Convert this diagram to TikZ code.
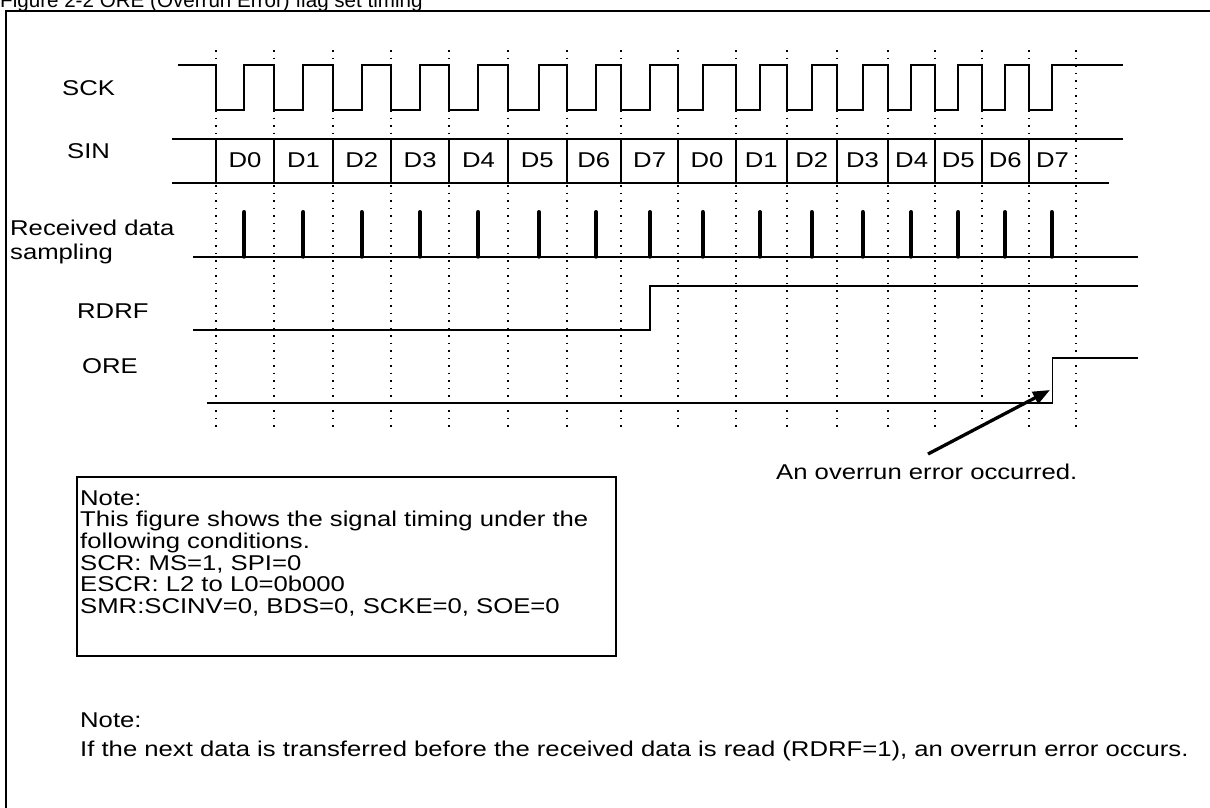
\documentclass[tikz,border=0pt]{standalone}
\usepackage{fontspec}
\setmainfont[FakeStretch=1.2]{Liberation Sans}
\newfontfamily\titlefam{Liberation Sans}
\usetikzlibrary{arrows.meta}
\begin{document}
\begin{tikzpicture}[x=1pt,y=-1pt,
  lbl/.style={anchor=base west,inner sep=0,font=\fontsize{21.4pt}{21.7pt}\selectfont},
  titlefont/.style={anchor=base west,inner sep=0,font=\titlefam\fontsize{20.6pt}{21pt}\selectfont},
  dlbl/.style={anchor=base,inner sep=0,font=\fontsize{21.4pt}{21.7pt}\selectfont},
  sig/.style={line width=1.9pt},
  grid/.style={line width=1.7pt,dash pattern=on 1.7pt off 5.8pt},
  spike/.style={line width=4pt,line cap=round},
  frame/.style={line width=2pt},
  boxline/.style={line width=1.5pt}]
\useasboundingbox (0,0) rectangle (1210,807);
% title and frame
\node[titlefont] (title) at (0,7.5) {Figure 2-2 ORE (Overrun Error) flag set timing};
\draw[frame] (6,812) -- (6,11) -- (1215,11);
% dotted grid
\foreach \x in {215.7,274.3,332.7,391,449.3,507.7,566.7,621,678.3,735.7,786.7,836.7,888.3,935,981.7,1029,1076}
  \draw[grid] (\x,50) -- (\x,429);
% labels
\node[lbl] (lsck) at (62,95) {SCK};
\node[lbl] (lsin) at (67,158) {SIN};
\node[lbl] (lrec) at (10,235) {Received data};
\node[lbl] (lsam) at (10,259) {sampling};
\node[lbl] (lrdrf) at (77,318) {RDRF};
\node[lbl] (lore) at (82,373) {ORE};
% SCK
\draw[sig] (178,65)
  \foreach \f/\r in {215.7/244.3,274.3/303.3,332.7/361.7,391/420,449.3/478.3,507.7/539,566.7/596,621/650,678.3/702.7,735.7/760,786.7/811.7,836.7/862.7,888.3/911,935/958.3,981.7/1005,1029/1051.7}
  { -- (\f,65) -- (\f,110) -- (\r,110) -- (\r,65) } -- (1123,65);
% SIN
\draw[sig] (172,139) -- (1123,139);
\draw[sig] (172,183) -- (1109,183);
\foreach \x in {215.7,274.3,332.7,391,449.3,507.7,566.7,621,678.3,735.7,786.7,836.7,888.3,935,981.7,1029}
  \draw[sig] (\x,139) -- (\x,183);
\foreach \a/\b/\t in {215.7/274.3/D0,274.3/332.7/D1,332.7/391/D2,391/449.3/D3,449.3/507.7/D4,507.7/566.7/D5,566.7/621/D6,621/678.3/D7,678.3/735.7/D0,735.7/786.7/D1,786.7/836.7/D2,836.7/888.3/D3,888.3/935/D4,935/981.7/D5,981.7/1029/D6,1029/1076/D7}
  \node[dlbl] at ({(\a+\b)/2},167) {\t};
% sampling
\draw[sig] (193,256.7) -- (1138,256.7);
\foreach \r in {244.3,303.3,361.7,420,478.3,539,596,650,702.7,760,811.7,862.7,911,958.3,1005,1051.7}
  \draw[spike] (\r,212) -- (\r,256.7);
% RDRF
\draw[sig] (193,330) -- (650,330) -- (650,286) -- (1138,286);
% ORE
\draw[sig] (207,402.7) -- (1052.5,402.7) -- (1052.5,358.3) -- (1138,358.3);
% arrow
\coordinate (astart) at (928,454);
\coordinate (atip) at (1050,390);
\draw[line width=3.3pt,-{Triangle[length=17pt,width=13pt]}] (astart) -- (atip);
\node[lbl] (lover) at (776,479) {An overrun error occurred.};
% note box
\node[draw,boxline,anchor=north west,inner sep=0,minimum width=539pt,minimum height=179pt] (notebox) at (76,476) {};
\node[lbl] (n1) at (80,505) {Note:};
\node[lbl] (n2) at (80,526.7) {This figure shows the signal timing under the};
\node[lbl] (n3) at (80,548.4) {following conditions.};
\node[lbl] (n4) at (80,570.1) {SCR: MS=1, SPI=0};
\node[lbl] (n5) at (80,591.8) {ESCR: L2 to L0=0b000};
\node[lbl] (n6) at (80,613.5) {SMR:SCINV=0, BDS=0, SCKE=0, SOE=0};
% second note
\node[lbl] (m1) at (80,727) {Note:};
\node[lbl] (m2) at (80,756) {If the next data is transferred before the received data is read (RDRF=1), an overrun error occurs.};
\end{tikzpicture}
\end{document}
